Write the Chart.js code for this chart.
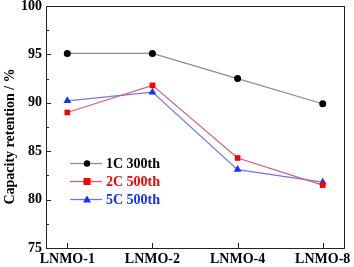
<!DOCTYPE html>
<html><head><meta charset="utf-8">
<script src="https://cdn.jsdelivr.net/npm/chart.js@4"></script>
<style>html,body{margin:0;padding:0;background:#fff}#w{width:354px;height:267px}</style>
</head><body><div id="w"><canvas id="c"></canvas></div>
<script>
const categories = ["LNMO-1", "LNMO-2", "LNMO-4", "LNMO-8"];
const seriesNames = ["1C 300th", "2C 500th", "5C 500th"];
const values1C = [95.1, 95.1, 92.5, 89.9];
const values2C = [89.0, 91.8, 84.3, 81.5];
const values5C = [90.2, 91.1, 83.1, 81.8];
const yTicks = [75, 80, 85, 90, 95, 100];
const yTitle = "Capacity retention / %";

const FONT = "'Liberation Serif', 'Times New Roman', serif";
const toPts = arr => arr.map((v, i) => ({x: i, y: v}));

const styles = [
  {line: '#8c8c8c', fill: '#000000', pt: 'circle', r: 3.5, text: '#000000'},
  {line: '#c8607c', fill: '#ff0000', pt: 'rect', r: 4, text: '#ff0000'},
  {line: '#7474e8', fill: '#1530ff', pt: 'triangle', r: 4.5, text: '#1530ff'}
];
const allVals = [values1C, values2C, values5C];

const framePlugin = {
  id: 'frame',
  afterDraw(chart) {
    const ctx = chart.ctx, a = chart.chartArea;
    const xs = chart.scales.x, ys = chart.scales.y;
    ctx.save();
    ctx.strokeStyle = '#222';
    ctx.lineWidth = 1;
    ctx.strokeRect(Math.round(a.left) + 0.5, Math.round(a.top) + 0.5, Math.round(a.right - a.left), Math.round(a.bottom - a.top));
    ctx.beginPath();
    for (let v = 75; v <= 100; v += 2.5) {
      const y = Math.round(ys.getPixelForValue(v)) + 0.5;
      const len = (v % 5 === 0) ? 5 : 3;
      ctx.moveTo(a.left, y); ctx.lineTo(a.left + len, y);
    }
    for (let i = 0; i < categories.length; i++) {
      const x = Math.round(xs.getPixelForValue(i)) + 0.5;
      ctx.moveTo(x, a.bottom); ctx.lineTo(x, a.bottom - 5);
    }
    ctx.stroke();

    // y axis title
    ctx.save();
    ctx.translate(10, 136.5);
    ctx.rotate(-Math.PI / 2);
    ctx.font = 'bold 14px ' + FONT;
    ctx.fillStyle = '#000';
    ctx.textAlign = 'center';
    ctx.textBaseline = 'middle';
    ctx.fillText(yTitle, 0, 0);
    ctx.restore();

    const lx = 70, ly = 163, dy = 18;
    ctx.font = 'bold 14px ' + FONT;
    ctx.textBaseline = 'middle';
    chart.data.datasets.forEach((ds, i) => {
      const y = ly + i * dy;
      const s = styles[i];
      ctx.strokeStyle = s.line; ctx.lineWidth = 1.3;
      ctx.beginPath(); ctx.moveTo(lx, y + 0.5); ctx.lineTo(lx + 32, y + 0.5); ctx.stroke();
      ctx.fillStyle = s.fill;
      const mx = lx + 17;
      if (s.pt === 'circle') { ctx.beginPath(); ctx.arc(mx, y + 0.5, 3.2, 0, Math.PI * 2); ctx.fill(); }
      else if (s.pt === 'rect') { ctx.fillRect(mx - 3.5, y - 3, 7, 7); }
      else { ctx.beginPath(); ctx.moveTo(mx, y - 3.5); ctx.lineTo(mx + 4, y + 3.5); ctx.lineTo(mx - 4, y + 3.5); ctx.closePath(); ctx.fill(); }
      ctx.fillStyle = s.text;
      ctx.textAlign = 'left';
      ctx.fillText(ds.label, lx + 36, y + 1);
    });
    ctx.restore();
  }
};

new Chart(document.getElementById('c'), {
  type: 'line',
  data: {
    datasets: seriesNames.map((name, i) => ({
      label: name,
      data: toPts(allVals[i]),
      borderColor: styles[i].line,
      backgroundColor: styles[i].fill,
      pointBackgroundColor: styles[i].fill,
      pointBorderColor: styles[i].fill,
      pointBorderWidth: 0,
      pointStyle: styles[i].pt,
      pointRadius: styles[i].r,
      borderWidth: 1.2,
      tension: 0
    }))
  },
  options: {
    responsive: true,
    maintainAspectRatio: false,
    animation: false,
    devicePixelRatio: 1,
    layout: {padding: 0},
    plugins: {legend: {display: false}, tooltip: {enabled: false}},
    scales: {
      x: {
        type: 'linear', min: -0.25, max: 3.25,
        afterBuildTicks: s => { s.ticks = categories.map((c, i) => ({value: i})); },
        afterFit: s => { s.height = 19; s.paddingLeft = 0; s.paddingRight = 10; },
        grid: {display: false, drawTicks: false},
        border: {display: false},
        ticks: {
          padding: 3, color: '#000',
          font: {family: FONT, size: 14, weight: 'bold'},
          callback: v => categories[v] ?? '',
          maxRotation: 0, autoSkip: false
        }
      },
      y: {
        min: 75, max: 100,
        afterBuildTicks: s => { s.ticks = yTicks.map(v => ({value: v})); },
        afterFit: s => { s.width = 46; s.paddingTop = 6; s.paddingBottom = 0; },
        grid: {display: false, drawTicks: false},
        border: {display: false},
        ticks: {padding: 4, color: '#000', font: {family: FONT, size: 14, weight: 'bold'}},
        title: {display: false}
      }
    }
  },
  plugins: [framePlugin]
});
</script>
</body></html>
